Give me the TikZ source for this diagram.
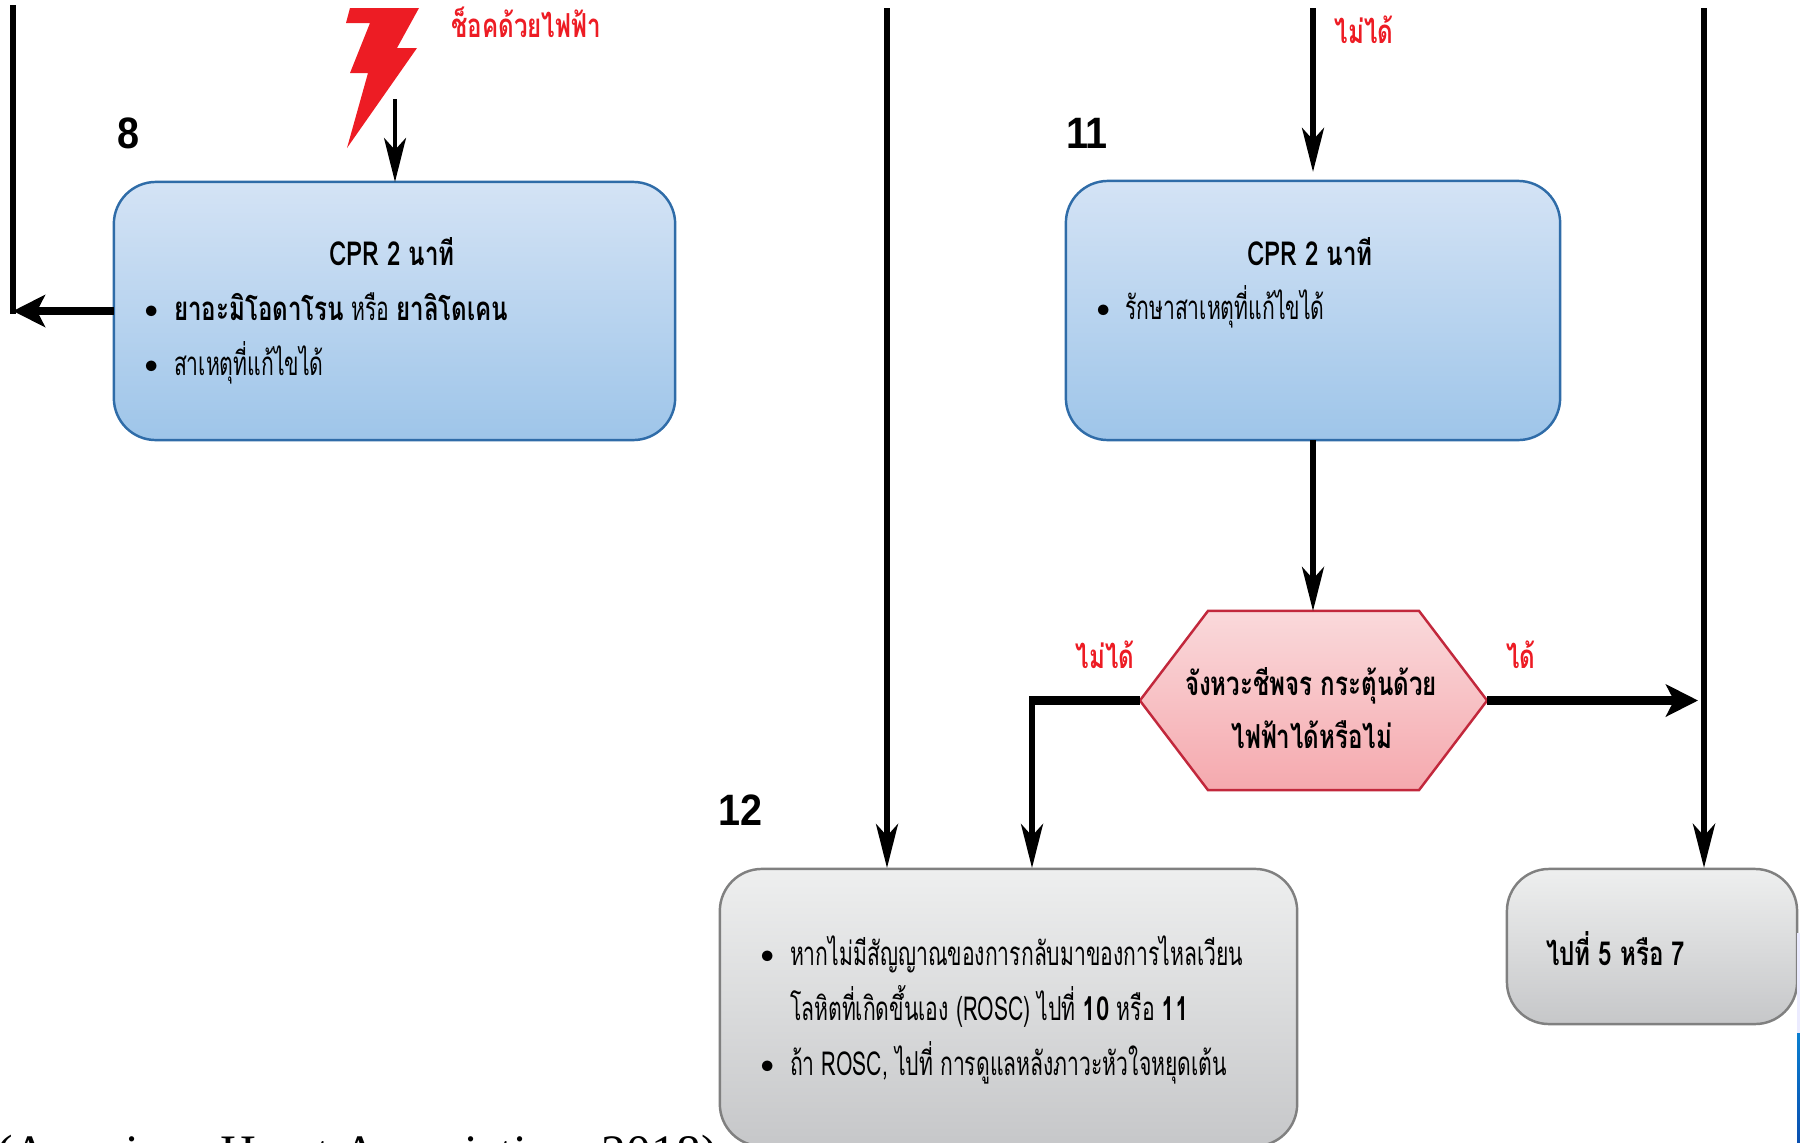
\documentclass[tikz,border=0pt]{standalone}
\usepackage{fontspec}
\setmainfont{Liberation Serif}
\newfontfamily\thaifont[Script=Thai,FakeStretch=0.64,BoldFont={Loma Bold},BoldFeatures={FakeStretch=0.73}]{Loma}
\newfontfamily\numfont[FakeStretch=0.9]{Liberation Sans}
\usetikzlibrary{arrows.meta}
\definecolor{boltred}{HTML}{ED1C24}
\begin{document}
\begin{tikzpicture}[x=0.01cm, y=-0.01cm, every node/.style={inner sep=0pt, outer sep=0pt}]
\useasboundingbox (0,0) rectangle (1800,1142);
\tikzset{bluebox/.style={draw={rgb,255:red,47;green,108;blue,168}, line width=0.7pt, rounded corners=0.42cm, top color={rgb,255:red,212;green,227;blue,245}, bottom color={rgb,255:red,158;green,197;blue,233}}}
\tikzset{greybox/.style={draw={rgb,255:red,128;green,128;blue,128}, line width=0.7pt, rounded corners=0.42cm, top color={rgb,255:red,238;green,239;blue,239}, bottom color={rgb,255:red,198;green,199;blue,201}}}
\tikzset{redhex/.style={draw={rgb,255:red,194;green,40;blue,60}, line width=0.7pt, top color={rgb,255:red,250;green,217;blue,219}, bottom color={rgb,255:red,245;green,169;blue,174}}}
\tikzset{thaitext/.style={anchor=base west, font=\thaifont\fontsize{9.4}{11}\selectfont}}
\tikzset{thaimid/.style={anchor=base, font=\thaifont\fontsize{9.4}{11}\selectfont}}
\tikzset{redtext/.style={anchor=base, text=boltred, font=\thaifont\bfseries\fontsize{9.4}{11}\selectfont}}
\tikzset{numtext/.style={anchor=base west, font=\numfont\bfseries\fontsize{12.5}{14}\selectfont}}
\tikzset{itemdot/.style={anchor=base west, font=\fontsize{7}{8}\selectfont}}

\node[bluebox, minimum width=5.61cm, minimum height=2.58cm] (cprleft) at (394.5, 311) {};
\node[bluebox, minimum width=4.94cm, minimum height=2.59cm] (cprright) at (1313, 310.5) {};
\node[minimum width=3.47cm, minimum height=1.79cm] (rhythm) at (1313.5, 700.5) {};
\draw[redhex] (rhythm.west) -- ([xshift=0.68cm]rhythm.north west) -- ([xshift=-0.68cm]rhythm.north east) -- (rhythm.east) -- ([xshift=-0.68cm]rhythm.south east) -- ([xshift=0.68cm]rhythm.south west) -- cycle;
\node[greybox, minimum width=5.77cm, minimum height=2.77cm] (rosc) at (1008.5, 1007.5) {};
\node[greybox, minimum width=2.9cm, minimum height=1.55cm] (goto) at (1652, 946.5) {};

\fill[boltred] (350,8) -- (419,8) -- (397,48) -- (417,48) -- (347,148) -- (368,73) -- (350,73) -- (370,23) -- (346,23) -- cycle;

\node[numtext] (numeight) at (117, 148) {8};
\node[numtext] (numeleven) at (1066, 148) {11};
\node[numtext] (numtwelve) at (718, 825) {12};

\node[redtext] (shock) at (526, 37) {ช็อคด้วยไฟฟ้า};
\node[redtext] (notop) at (1364, 43) {ไม่ได้};
\node[redtext] (noleft) at (1105, 668) {ไม่ได้};
\node[redtext] (yesright) at (1521, 668) {ได้};

\node[thaimid] (titleleft) at (392, 265) {\textbf{CPR 2 นาที}};
\node[itemdot] (bulletla) at (144, 317) {$\bullet$};
\node[thaitext] (itemla) at (174, 320) {\textbf{ยาอะมิโอดาโรน} หรือ \textbf{ยาลิโดเคน}};
\node[itemdot] (bulletlb) at (144, 372) {$\bullet$};
\node[thaitext] (itemlb) at (174, 375) {สาเหตุที่แก้ไขได้};

\node[thaimid] (titleright) at (1310, 265) {\textbf{CPR 2 นาที}};
\node[itemdot] (bulletr) at (1096, 316) {$\bullet$};
\node[thaitext] (itemr) at (1125, 319) {รักษาสาเหตุที่แก้ไขได้};

\node[thaimid] (hexa) at (1311, 695) {\textbf{จังหวะชีพจร กระตุ้นด้วย}};
\node[thaimid] (hexb) at (1312, 748) {\textbf{ไฟฟ้าได้หรือไม่}};

\node[itemdot] (bulletga) at (760, 962) {$\bullet$};
\node[thaitext] (itemga) at (790, 965) {หากไม่มีสัญญาณของการกลับมาของการไหลเวียน};
\node[thaitext] (itemgb) at (790, 1020) {โลหิตที่เกิดขึ้นเอง (ROSC) ไปที่ \textbf{10} หรือ \textbf{11}};
\node[itemdot] (bulletgc) at (760, 1072) {$\bullet$};
\node[thaitext] (itemgc) at (790, 1075) {ถ้า ROSC, ไปที่ การดูแลหลังภาวะหัวใจหยุดเต้น};

\node[thaitext] (gotext) at (1546, 965) {\textbf{ไปที่ 5 หรือ 7}};

\node[anchor=base west, font=\fontsize{14.1}{16}\selectfont] (source) at (-4, 1169) {(American Heart Association, 2018)};

\coordinate (shockstart) at (395, 99);
\coordinate (toptwo) at (1313, 8);
\coordinate (topleft) at (13, 8);
\coordinate (kneeleft) at (13, 311);
\coordinate (topmid) at (887, 8);
\coordinate (topright) at (1704, 8);
\coordinate (kneehex) at (1032, 700.5);
\coordinate (rightmid) at (1698, 700.5);
\coordinate (roscone) at (887, 868);
\coordinate (rosctwo) at (1032, 868);
\coordinate (gotop) at (1704, 868);

\tikzset{mystyle/.style={-{Stealth[length=0.44cm, width=0.22cm, inset=0.12cm]}, line width=1.5pt}}
\path (shockstart) edge [mystyle, line width=1.2pt] (cprleft.north -| shockstart);
\path (toptwo) edge [mystyle] ([yshift=0.09cm]cprright.north);
\path (cprright.south) edge [mystyle] (rhythm.north -| cprright.south);
\path (topmid) edge [mystyle] (roscone);
\path (kneehex) edge [mystyle] (rosctwo);
\path (topright) edge [mystyle, line width=1.8pt] (gotop);

\tikzset{mystyle/.style={-{Stealth[length=0.32cm, width=0.32cm, inset=0.08cm]}, line width=2.4pt}}
\path (rhythm.east) edge [mystyle] (rightmid);
\path (cprleft.west |- kneeleft) edge [mystyle] (kneeleft);

\tikzset{mystyle/.style={-, line width=2.4pt}}
\path (rhythm.west) edge [mystyle] ([xshift=-0.03cm]kneehex);
\tikzset{mystyle/.style={-, line width=1.6pt, line cap=rect}}
\path (topleft) edge [mystyle] (kneeleft);

\fill[blue!8!white] (1797,933) rectangle (1800,1033);
\shade[top color={rgb,255:red,10;green,127;blue,208}, bottom color={rgb,255:red,10;green,80;blue,176}] (1797,1033) rectangle (1800,1142);
\end{tikzpicture}
\end{document}
